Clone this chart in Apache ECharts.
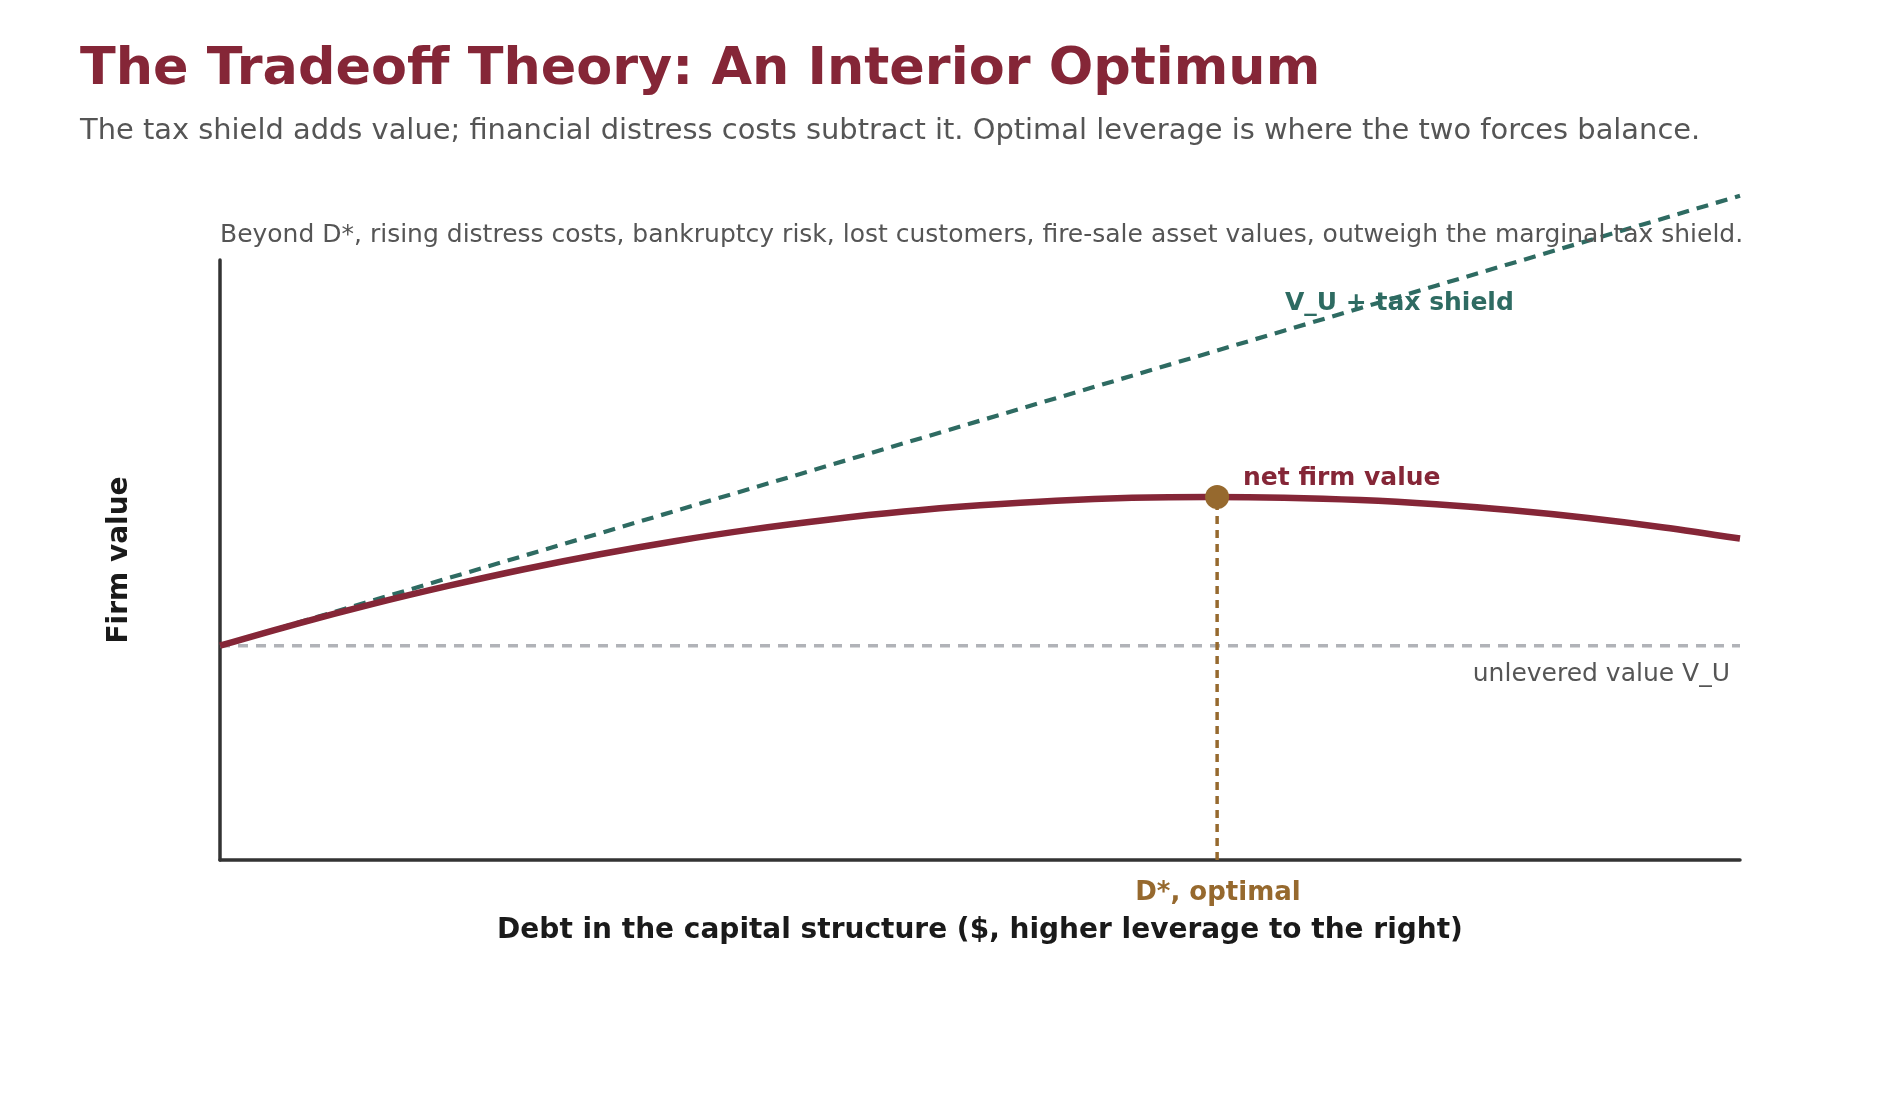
<!DOCTYPE html>
<html>
<head>
<meta charset="UTF-8">
<title>The Tradeoff Theory</title>
<style>
  html, body { margin: 0; padding: 0; background: #fff; }
  #main { width: 1880px; height: 1120px; }
</style>
<script src="https://cdn.jsdelivr.net/npm/echarts@6/dist/echarts.min.js"></script>
</head>
<body>
<div id="main"></div>
<script>
// debt levels (x) and firm values
var debt = [0, 5, 10, 15, 20, 25, 30, 35, 40, 45, 50, 55, 60, 65, 70, 75, 80, 85, 90, 95, 100];
var netValue = [100, 110.1, 119.4, 127.9, 135.7, 142.7, 148.9, 154.3, 158.8, 162.6, 165.5, 167.7, 169.0, 169.4, 169.1, 168.0, 166.0, 163.2, 159.6, 155.2, 150];
var taxShieldValue = [100, 110.5, 121, 131.5, 142, 152.5, 163, 173.5, 184, 194.5, 205, 215.5, 226, 236.5, 247, 257.5, 268, 278.5, 289, 299.5, 310];
var unleveredValue = 100;
var dStar = 65.6;
var vStar = 169.4;

var FONT = '"DejaVu Sans", sans-serif';

function pairs(xs, ys) {
  var out = [];
  for (var i = 0; i < xs.length; i++) out.push([xs[i], ys[i]]);
  return out;
}

var myChart = echarts.init(document.getElementById('main'));

var option = {
  backgroundColor: '#ffffff',
  animation: false,
  textStyle: { fontFamily: FONT },
  grid: { left: 220, right: 140, top: 260, bottom: 260 },
  xAxis: {
    type: 'value', min: 0, max: 100,
    name: 'Debt in the capital structure ($, higher leverage to the right)',
    nameLocation: 'middle', nameGap: 57,
    nameTextStyle: { fontFamily: FONT, fontSize: 28, fontWeight: 'bold', color: '#1a1a1a' },
    axisLine: { lineStyle: { color: '#333333', width: 3.5 } },
    axisTick: { show: false }, axisLabel: { show: false }, splitLine: { show: false }
  },
  yAxis: {
    type: 'value', min: 0, max: 280,
    name: 'Firm value',
    nameLocation: 'middle', nameGap: 86, nameRotate: 90,
    nameTextStyle: { fontFamily: FONT, fontSize: 28, fontWeight: 'bold', color: '#1a1a1a' },
    axisLine: { show: true, lineStyle: { color: '#333333', width: 3.5 } },
    axisTick: { show: false }, axisLabel: { show: false }, splitLine: { show: false }
  },
  series: [
    {
      name: 'unlevered', type: 'line', symbol: 'none', z: 1,
      data: [[0, unleveredValue], [100, unleveredValue]],
      lineStyle: { color: '#b1b3b8', width: 3.5, type: [10, 8] }
    },
    {
      name: 'tax shield', type: 'line', symbol: 'none', clip: false, z: 2,
      data: pairs(debt, taxShieldValue),
      lineStyle: { color: '#2e6b62', width: 4.2, type: [12, 8] }
    },
    {
      name: 'net', type: 'line', symbol: 'none', smooth: 0.3, z: 3,
      data: pairs(debt, netValue),
      lineStyle: { color: '#852637', width: 6.5 }
    },
    {
      name: 'optimal line', type: 'line', symbol: 'none', z: 4,
      data: [[dStar, 0], [dStar, vStar]],
      lineStyle: { color: '#96692e', width: 3.5, type: [8, 6] }
    },
    {
      name: 'optimal', type: 'scatter', symbolSize: 24, z: 5,
      data: [[dStar, vStar]],
      itemStyle: { color: '#96692e', opacity: 1 }
    }
  ],
  graphic: [
    { type: 'text', left: 80, top: 44, z: 10,
      style: { text: 'The Tradeoff Theory: An Interior Optimum', fontFamily: FONT, fontSize: 52.4, fontWeight: 'bold', fill: '#852637' } },
    { type: 'text', left: 80, top: 117, z: 10,
      style: { text: 'The tax shield adds value; financial distress costs subtract it. Optimal leverage is where the two forces balance.', fontFamily: FONT, fontSize: 28.9, fill: '#555555' } },
    { type: 'text', left: 220, top: 223, z: 10,
      style: { text: 'Beyond D*, rising distress costs, bankruptcy risk, lost customers, fire-sale asset values, outweigh the marginal tax shield.', fontFamily: FONT, fontSize: 25, fill: '#555555' } },
    { type: 'text', left: 1285, top: 291, z: 10,
      style: { text: 'V_U + tax shield', fontFamily: FONT, fontSize: 25, fontWeight: 'bold', fill: '#2e6b62' } },
    { type: 'text', left: 1243, top: 466, z: 10,
      style: { text: 'net firm value', fontFamily: FONT, fontSize: 25, fontWeight: 'bold', fill: '#852637' } },
    { type: 'text', right: 150, top: 662, z: 10,
      style: { text: 'unlevered value V_U', fontFamily: FONT, fontSize: 25, fill: '#555555' } },
    { type: 'text', x: 1218, y: 893, z: 10,
      style: { text: 'D*, optimal', fontFamily: FONT, fontSize: 26, fontWeight: 'bold', fill: '#96692e', align: 'center', verticalAlign: 'middle' } }
  ]
};

myChart.setOption(option);
</script>
</body>
</html>
